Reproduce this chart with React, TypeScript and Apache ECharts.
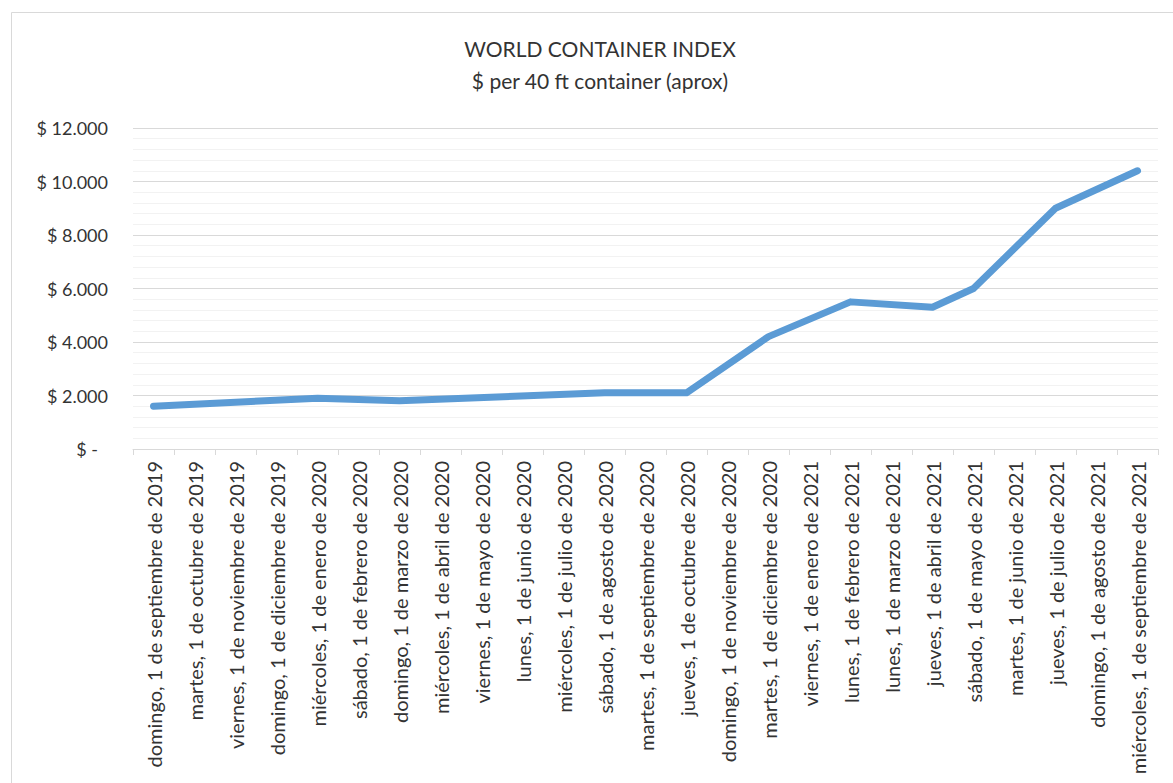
import React, { useEffect, useRef } from "react";
import * as echarts from "echarts";

// Monthly index dates (first of each month, Sep 2019 – Sep 2021)
const categories: string[] = [
  "domingo, 1 de septiembre de 2019",
  "martes, 1 de octubre de 2019",
  "viernes, 1 de noviembre de 2019",
  "domingo, 1 de diciembre de 2019",
  "miércoles, 1 de enero de 2020",
  "sábado, 1 de febrero de 2020",
  "domingo, 1 de marzo de 2020",
  "miércoles, 1 de abril de 2020",
  "viernes, 1 de mayo de 2020",
  "lunes, 1 de junio de 2020",
  "miércoles, 1 de julio de 2020",
  "sábado, 1 de agosto de 2020",
  "martes, 1 de septiembre de 2020",
  "jueves, 1 de octubre de 2020",
  "domingo, 1 de noviembre de 2020",
  "martes, 1 de diciembre de 2020",
  "viernes, 1 de enero de 2021",
  "lunes, 1 de febrero de 2021",
  "lunes, 1 de marzo de 2021",
  "jueves, 1 de abril de 2021",
  "sábado, 1 de mayo de 2021",
  "martes, 1 de junio de 2021",
  "jueves, 1 de julio de 2021",
  "domingo, 1 de agosto de 2021",
  "miércoles, 1 de septiembre de 2021",
];

// USD per 40 ft container; months without a reading are left empty and bridged
const containerRate: (number | null)[] = [
  1600, null, null, null, 1900, null, 1800, null, null, null, null, 2100, null,
  2100, null, 4200, null, 5500, null, 5300, 6000, null, 9000, null, 10400,
];

const yTicks = { min: 0, max: 12000, interval: 2000 };

const titleText = "WORLD CONTAINER INDEX";
const subtitleText = "$ per 40 ft container (aprox)";

const FONT = "Lato, 'Noto Sans', sans-serif";
const TEXT_COLOR = "#333333";

function formatDollar(v: number): string {
  if (v === 0) return "{z|$ -}";
  const s = String(Math.round(v)).replace(/\B(?=(\d{3})+(?!\d))/g, ".");
  return "$ " + s;
}

export default function App() {
  const ref = useRef<HTMLDivElement>(null);

  useEffect(() => {
    document.body.style.margin = "0";
    if (!ref.current) return;
    const chart = echarts.init(ref.current, null, { renderer: "svg" });
    chart.setOption({
      animation: false,
      backgroundColor: "#ffffff",
      textStyle: { fontFamily: FONT },
      graphic: [
        {
          type: "rect",
          shape: { x: 11.5, y: 12.5, width: 1200, height: 800 },
          style: { fill: "none", stroke: "#d9d9d9", lineWidth: 1 },
          silent: true,
          z: -1,
        },
        {
          type: "text",
          x: 600,
          y: 48,
          style: {
            text: titleText,
            fontFamily: FONT,
            fontSize: 21,
            fill: TEXT_COLOR,
            align: "center",
            verticalAlign: "middle",
          },
        },
        {
          type: "text",
          x: 600,
          y: 80,
          style: {
            text: subtitleText,
            fontFamily: FONT,
            fontSize: 21,
            fill: TEXT_COLOR,
            align: "center",
            verticalAlign: "middle",
          },
        },
      ],
      grid: { left: 133, right: 15, top: 128, bottom: 334, containLabel: false },
      xAxis: {
        type: "category",
        data: categories,
        boundaryGap: true,
        axisLine: { lineStyle: { color: "#d9d9d9", width: 1 } },
        axisTick: { show: true, length: 6, lineStyle: { color: "#d9d9d9" } },
        axisLabel: {
          interval: 0,
          rotate: 90,
          margin: 12,
          color: TEXT_COLOR,
          fontSize: 20,
          fontFamily: FONT,
        },
        splitLine: { show: false },
      },
      yAxis: {
        type: "value",
        min: yTicks.min,
        max: yTicks.max,
        interval: yTicks.interval,
        axisLine: { show: false },
        axisTick: { show: false },
        axisLabel: {
          margin: 25,
          color: TEXT_COLOR,
          fontSize: 18,
          fontFamily: FONT,
          formatter: formatDollar,
          rich: { z: { padding: [0, 10, 0, 0], fontSize: 18, fontFamily: FONT, color: TEXT_COLOR } },
        },
        splitLine: { show: true, lineStyle: { color: "#d9d9d9", width: 1 } },
        minorTick: { show: false, splitNumber: 5 },
        minorSplitLine: { show: true, lineStyle: { color: "#f2f2f2", width: 1 } },
      },
      series: [
        {
          type: "line",
          data: containerRate,
          connectNulls: true,
          showSymbol: false,
          symbol: "none",
          lineStyle: { color: "#5b9bd5", width: 7, cap: "round", join: "round" },
        },
      ],
    });
    return () => chart.dispose();
  }, []);

  return <div ref={ref} style={{ width: 1173, height: 783 }} />;
}
